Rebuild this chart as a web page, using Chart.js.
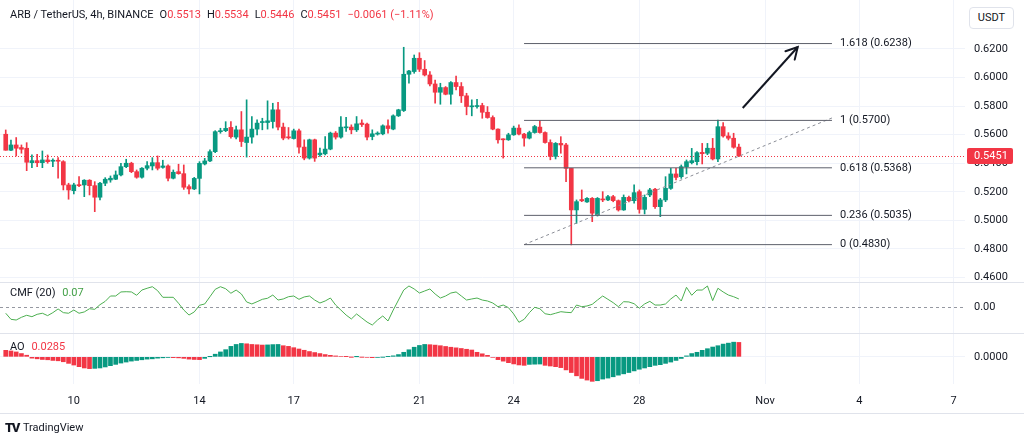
<!DOCTYPE html>
<html><head><meta charset="utf-8">
<script src="https://cdn.jsdelivr.net/npm/chart.js@4.4.1/dist/chart.umd.min.js"></script>
<style>
html,body{margin:0;padding:0;background:#fff;}
body{width:1024px;height:438px;position:relative;overflow:hidden;font-family:Roboto,"Noto Sans",sans-serif;color:#131722;}
.pane{position:absolute;left:0;width:1024px;}
.sep{position:absolute;left:0;width:1024px;height:1px;background:#e0e3eb;}
.lbl{position:absolute;left:10px;font-size:11px;line-height:14px;white-space:nowrap;}
.red{color:#f23645;}
.grn{color:#43a047;}
.g{margin-left:6px;}
#usdt{position:absolute;left:969px;top:7px;width:43px;height:20px;border:1px solid #e0e3eb;border-radius:4px;font-size:11px;line-height:20px;text-align:center;background:#fff;}
#tv{position:absolute;left:5px;top:421px;font-size:11px;line-height:14px;display:flex;align-items:center;}
#tv b{font-weight:900;font-size:13px;letter-spacing:-1.5px;margin-right:4px;}
</style></head><body>
<div class="pane" style="top:0;height:282px"><canvas id="c1" width="1024" height="282"></canvas></div>
<div class="sep" style="top:282px"></div>
<div class="pane" style="top:283px;height:50px"><canvas id="c2" width="1024" height="50"></canvas></div>
<div class="sep" style="top:333px"></div>
<div class="pane" style="top:334px;height:79px"><canvas id="c3" width="1024" height="79"></canvas></div>
<div class="sep" style="top:413px"></div>
<div class="lbl" id="hdr" style="top:8px"></div>
<div class="lbl" id="cmfLbl" style="top:286px"></div>
<div class="lbl" id="aoLbl" style="top:340px"></div>
<div id="usdt">USDT</div>
<div id="tv"><b>TV</b><span>TradingView</span></div>
<script>
// ---------- DATA ----------
const symbolText = 'ARB / TetherUS, 4h, BINANCE';
const candleStart = 7 + 20/24;   // Oct 7, 20:00 (days in October)
const stepDays = 4/24;           // 4h candles
const opens = [.5603,.5491,.5528,.5510,.5505,.5404,.5418,.5404,.5423,.5414,
.5418,.5411,.5248,.5208,.5248,.5248,.5281,.5243,.5162,.5260,
.5283,.5288,.5318,.5376,.5400,.5341,.5302,.5365,.5381,.5404,
.5371,.5381,.5295,.5341,.5327,.5236,.5220,.5294,.5395,.5416,
.5481,.5621,.5628,.5651,.5583,.5634,.5545,.5583,.5639,.5685,
.5685,.5692,.5774,.5653,.5583,.5573,.5627,.5513,.5436,.5564,
.5459,.5466,.5499,.5611,.5583,.5648,.5653,.5634,.5681,.5674,
.5587,.5604,.5606,.5662,.5639,.5732,.5769,.6023,.6042,.6135,
.6058,.6018,.5955,.5897,.5930,.5883,.5965,.5937,.5872,.5795,
.5797,.5804,.5757,.5720,.5639,.5569,.5564,.5599,.5646,.5604,
.5576,.5615,.5653,.5615,.5545,.5448,.5539,.5528,.5364,.5073,
.5146,.5129,.5154,.5038,.5148,.5143,.5166,.5138,.5073,.5161,
.5138,.5201,.5077,.5178,.5218,.5096,.5143,.5224,.5325,.5306,
.5376,.5404,.5411,.5476,.5470,.5505,.5430,.5656,.5591,.5575,
.5513];
const highs = [.5633,.5563,.5580,.5528,.5544,.5458,.5463,.5486,.5458,.5430,
.5439,.5418,.5260,.5260,.5306,.5285,.5285,.5271,.5267,.5299,
.5311,.5346,.5400,.5428,.5407,.5353,.5369,.5411,.5439,.5451,
.5421,.5388,.5353,.5393,.5388,.5248,.5301,.5411,.5434,.5493,
.5628,.5645,.5691,.5691,.5660,.5762,.5844,.5727,.5704,.5715,
.5837,.5820,.5827,.5681,.5650,.5639,.5639,.5564,.5569,.5569,
.5506,.5587,.5618,.5622,.5727,.5722,.5669,.5727,.5704,.5681,
.5634,.5620,.5669,.5704,.5739,.5778,.6212,.6050,.6158,.6174,
.6119,.6042,.5983,.5960,.5937,.5972,.6011,.5965,.5890,.5844,
.5848,.5820,.5797,.5732,.5641,.5571,.5610,.5660,.5669,.5610,
.5625,.5665,.5699,.5620,.5564,.5545,.5586,.5539,.5364,.5143,
.5213,.5160,.5160,.5160,.5201,.5175,.5175,.5143,.5178,.5170,
.5248,.5213,.5178,.5224,.5224,.5154,.5306,.5364,.5364,.5388,
.5423,.5504,.5481,.5539,.5539,.5574,.5703,.5684,.5614,.5610,
.5534];
const lows = [.5491,.5488,.5451,.5470,.5348,.5369,.5376,.5369,.5400,.5376,
.5295,.5213,.5148,.5185,.5236,.5166,.5178,.5061,.5143,.5243,
.5267,.5285,.5311,.5369,.5334,.5295,.5295,.5353,.5353,.5353,
.5365,.5276,.5290,.5323,.5217,.5185,.5215,.5185,.5388,.5411,
.5474,.5610,.5621,.5575,.5570,.5517,.5443,.5541,.5599,.5634,
.5639,.5646,.5634,.5564,.5569,.5569,.5471,.5424,.5429,.5413,
.5448,.5459,.5494,.5569,.5576,.5622,.5606,.5622,.5657,.5564,
.5564,.5597,.5599,.5611,.5634,.5727,.5762,.5960,.6030,.6042,
.6011,.5941,.5820,.5813,.5879,.5813,.5914,.5825,.5739,.5732,
.5785,.5715,.5715,.5634,.5541,.5436,.5560,.5595,.5599,.5520,
.5570,.5610,.5610,.5540,.5424,.5430,.5470,.5271,.4828,.4979,
.5131,.5125,.4991,.5030,.5131,.5138,.5130,.5065,.5070,.5130,
.5120,.5050,.5045,.5166,.5084,.5026,.5131,.5217,.5283,.5294,
.5325,.5395,.5388,.5395,.5460,.5423,.5411,.5582,.5563,.5505,
.5446];
const closes = [.5491,.5528,.5505,.5498,.5407,.5418,.5404,.5423,.5411,.5418,
.5414,.5248,.5213,.5248,.5243,.5281,.5243,.5162,.5260,.5288,
.5295,.5318,.5376,.5400,.5341,.5302,.5365,.5383,.5404,.5365,
.5381,.5295,.5337,.5327,.5232,.5220,.5294,.5399,.5416,.5481,
.5621,.5628,.5644,.5586,.5634,.5552,.5583,.5639,.5681,.5690,
.5697,.5774,.5653,.5576,.5578,.5627,.5513,.5436,.5564,.5436,
.5471,.5499,.5611,.5583,.5653,.5653,.5634,.5676,.5671,.5583,
.5606,.5611,.5662,.5643,.5732,.5774,.6023,.6046,.6135,.6058,
.6018,.5955,.5897,.5930,.5883,.5965,.5937,.5872,.5797,.5802,
.5802,.5757,.5720,.5639,.5564,.5564,.5599,.5646,.5604,.5576,
.5615,.5657,.5615,.5545,.5448,.5539,.5528,.5364,.5073,.5131,
.5137,.5154,.5050,.5154,.5143,.5166,.5138,.5073,.5161,.5138,
.5194,.5077,.5161,.5213,.5096,.5143,.5224,.5325,.5301,.5376,
.5411,.5418,.5474,.5467,.5505,.5430,.5656,.5591,.5575,.5512,
.5451];
const cmf = [-0.050,-0.101,-0.107,-0.084,-0.067,-0.079,-0.059,-0.050,-0.070,-0.045,
-0.014,-0.045,-0.050,-0.023,-0.050,-0.039,-0.012,-0.017,0.022,0.050,
0.095,0.095,0.129,0.131,0.129,0.101,0.145,0.160,0.173,0.140,
0.084,0.084,0.084,0.034,-0.023,-0.065,-0.039,0.017,0.028,0.089,
0.151,0.173,0.156,0.118,0.145,0.112,0.045,0.028,0.047,0.067,
0.076,0.103,0.061,0.070,0.089,0.095,0.067,0.087,0.095,0.061,
0.036,0.053,0.078,0.019,-0.023,-0.065,-0.098,-0.056,-0.090,-0.124,
-0.149,-0.107,-0.073,-0.115,-0.023,0.061,0.145,0.179,0.154,0.120,
0.137,0.154,0.112,0.078,0.095,0.120,0.129,0.095,0.061,0.070,
0.078,0.061,0.053,0.036,0.005,0.019,-0.003,-0.056,-0.126,-0.101,
-0.045,0.000,-0.012,-0.054,-0.062,-0.050,-0.037,-0.042,-0.045,0.019,
0.005,0.011,0.025,0.061,0.095,0.067,0.039,0.005,0.047,0.045,
0.030,-0.008,0.028,0.050,0.019,0.019,0.028,0.070,0.103,0.053,
0.168,0.101,0.145,0.145,0.179,0.056,0.160,0.129,0.103,0.089,
0.070];
const ao = [0.0129,0.0116,0.0097,0.0065,0.0032,-0.0026,-0.0039,-0.0052,-0.0058,-0.0071,
-0.0078,-0.0097,-0.0129,-0.0162,-0.0194,-0.0220,-0.0233,-0.0228,-0.0220,-0.0200,
-0.0174,-0.0149,-0.0123,-0.0103,-0.0084,-0.0071,-0.0058,-0.0045,-0.0039,-0.0026,
-0.0019,-0.0013,-0.0016,-0.0020,-0.0030,-0.0045,-0.0052,-0.0055,-0.0030,0.0002,
0.0052,0.0097,0.0142,0.0207,0.0245,0.0265,0.0258,0.0245,0.0239,0.0233,
0.0236,0.0242,0.0245,0.0220,0.0207,0.0181,0.0155,0.0130,0.0105,0.0085,
0.0065,0.0045,0.0030,0.0018,0.0010,0.0004,-0.0002,0.0001,-0.0004,-0.0010,
-0.0016,-0.0012,-0.0004,0.0004,0.0020,0.0045,0.0090,0.0140,0.0190,0.0225,
0.0245,0.0240,0.0232,0.0220,0.0205,0.0190,0.0178,0.0165,0.0150,0.0135,
0.0090,0.0060,0.0030,-0.0010,-0.0055,-0.0085,-0.0115,-0.0140,-0.0160,-0.0168,
-0.0149,-0.0145,-0.0142,-0.0168,-0.0181,-0.0194,-0.0213,-0.0258,-0.0310,-0.0375,
-0.0426,-0.0459,-0.0484,-0.0472,-0.0439,-0.0420,-0.0394,-0.0362,-0.0336,-0.0310,
-0.0278,-0.0245,-0.0220,-0.0194,-0.0168,-0.0155,-0.0129,-0.0103,-0.0071,-0.0032,
0.0019,0.0065,0.0090,0.0129,0.0161,0.0194,0.0220,0.0252,0.0271,0.0290,
0.0285];
const tickDays = [10,14,17,21,24,28,32,35,38];
const tickLabels = ['10','14','17','21','24','28','Nov','4','7'];
const priceTicks = [0.46,0.48,0.50,0.52,0.54,0.56,0.58,0.60,0.62];
const fibNames = ['1.618','1','0.618','0.236','0'];
const fibLevels = [0.6238,0.5700,0.5368,0.5035,0.4830];
const fibStart = 24.33, fibEnd = 34.13;
const trendPts = [[24.33,0.4830],[34.13,0.5717]];
const arrowPts = [[31.29,0.5787],[33.04,0.6214]];
const cmfLen = 20;

// ---------- VIEW ----------
const xMin = 7.651, xMax = 38.364;
const GREEN = '#089981', RED = '#f23645';
const times = closes.map((_, i) => candleStart + i * stepDays);
const n = closes.length;
const lastClose = closes[n-1], prevClose = closes[n-2];
const chg = lastClose - prevClose;

Chart.defaults.font.family = "Roboto, 'Noto Sans', sans-serif";
Chart.defaults.font.size = 11;
Chart.defaults.color = '#131722';

// header
const f4 = v => v.toFixed(4);
const minus = s => s.replace('-', '\u2212');
document.getElementById('hdr').innerHTML =
  `${symbolText}<span class="g">O</span><span class="red">${f4(opens[n-1])}</span>` +
  `<span class="g">H</span><span class="red">${f4(highs[n-1])}</span>` +
  `<span class="g">L</span><span class="red">${f4(lows[n-1])}</span>` +
  `<span class="g">C</span><span class="red">${f4(closes[n-1])}</span>` +
  `<span class="g red">${minus(chg.toFixed(4))} (${minus((chg/prevClose*100).toFixed(2))}%)</span>`;
document.getElementById('cmfLbl').innerHTML = `CMF (${cmfLen}) <span class="grn" style="margin-left:4px">${cmf[n-1].toFixed(2)}</span>`;
document.getElementById('aoLbl').innerHTML = `AO <span class="red" style="margin-left:4px">${ao[n-1].toFixed(4)}</span>`;

function noPad(s){ s.paddingTop = 0; s.paddingBottom = 0; s.paddingLeft = 0; s.paddingRight = 0; }
function xAxis(show){
  return {
    type:'linear', min:xMin, max:xMax, offset:false,
    grid:{color:'#f0f3fa', drawTicks:false, offset:false},
    border:{display:false},
    afterBuildTicks: s => { s.ticks = tickDays.map(v => ({value:v})); },
    ticks:{display:show, padding:11, autoSkip:false, maxRotation:0,
      callback: v => { const i = tickDays.indexOf(v); return i >= 0 ? tickLabels[i] : ''; }},
    afterFit: s => { s.height = show ? 29 : 0; noPad(s); }
  };
}
function yAxis(min, max, tvals, fmt, grid){
  return {
    position:'right', min, max,
    afterBuildTicks: s => { s.ticks = tvals.map(v => ({value:v})); },
    grid:{display:grid, color:'#f0f3fa', drawTicks:false},
    border:{display:false},
    ticks:{padding:9, callback: fmt},
    afterFit: s => { s.width = 59; noPad(s); }
  };
}
const base = {responsive:false, animation:false, devicePixelRatio:1, events:[],
  layout:{padding:0}, plugins:{legend:{display:false}, tooltip:{enabled:false}}};

const hline = {
  id:'hline',
  beforeDatasetsDraw(chart, args, o){
    if (!o || o.value === undefined) return;
    const {ctx, chartArea:a, scales:{y}} = chart;
    const py = Math.round(y.getPixelForValue(o.value)) + 0.5;
    ctx.save(); ctx.strokeStyle = o.color; ctx.lineWidth = 1; ctx.setLineDash(o.dash);
    ctx.beginPath(); ctx.moveTo(a.left, py); ctx.lineTo(a.right, py); ctx.stroke(); ctx.restore();
  }
};

const priceDeco = {
  id:'priceDeco',
  afterDraw(chart){
    const {ctx, scales:{x, y}} = chart;
    ctx.save();
    ctx.font = "11px Roboto, 'Noto Sans', sans-serif";
    ctx.fillStyle = '#131722'; ctx.textBaseline = 'middle'; ctx.textAlign = 'left';
    fibLevels.forEach((lv, i) => {
      ctx.fillText(`${fibNames[i]} (${lv.toFixed(4)})`, x.getPixelForValue(fibEnd) + 8, y.getPixelForValue(lv));
    });
    // arrow head
    const x1 = x.getPixelForValue(arrowPts[0][0]), y1 = y.getPixelForValue(arrowPts[0][1]);
    const x2 = x.getPixelForValue(arrowPts[1][0]), y2 = y.getPixelForValue(arrowPts[1][1]);
    const ang = Math.atan2(y2 - y1, x2 - x1), L = 13, th = 0.5;
    ctx.strokeStyle = '#131722'; ctx.lineWidth = 2; ctx.lineCap = 'round';
    ctx.beginPath();
    ctx.moveTo(x2 - L*Math.cos(ang - th), y2 - L*Math.sin(ang - th));
    ctx.lineTo(x2, y2);
    ctx.lineTo(x2 - L*Math.cos(ang + th), y2 - L*Math.sin(ang + th));
    ctx.stroke();
    // last price label
    const py = y.getPixelForValue(lastClose);
    ctx.fillStyle = RED;
    ctx.beginPath(); ctx.roundRect(y.left + 2, py - 8, 46, 16, 2); ctx.fill();
    ctx.fillStyle = '#fff';
    ctx.fillText(lastClose.toFixed(4), y.left + 9, py + 0.5);
    ctx.restore();
  }
};

// ---------- PRICE PANE ----------
const candleColor = i => closes[i] >= opens[i] ? GREEN : RED;
const datasets1 = [
  {type:'bar', label:'wicks', order:6, grouped:false, barThickness:1,
   data: times.map((t, i) => ({x:t, y:[lows[i], highs[i]]})),
   backgroundColor: c => candleColor(c.dataIndex)},
  {type:'bar', label:'bodies', order:5, grouped:false, barThickness:4, minBarLength:1,
   data: times.map((t, i) => ({x:t, y:[opens[i], closes[i]]})),
   backgroundColor: c => candleColor(c.dataIndex)},
  {type:'line', label:'trend', order:3, borderColor:'#8a8d96', borderWidth:1, borderDash:[3,3],
   pointRadius:0, data: trendPts.map(p => ({x:p[0], y:p[1]}))},
  {type:'line', label:'arrow', order:1, borderColor:'#131722', borderWidth:2,
   pointRadius:0, data: arrowPts.map(p => ({x:p[0], y:p[1]}))},
  ...fibLevels.map((lv, i) => ({type:'line', label:'fib ' + fibNames[i], order:2,
   borderColor:'#5d606b', borderWidth:1, pointRadius:0,
   data:[{x:fibStart, y:lv}, {x:fibEnd, y:lv}]}))
];
new Chart(document.getElementById('c1'), {
  type:'bar',
  data:{datasets:datasets1},
  options:{...base,
    plugins:{...base.plugins, hline:{value:lastClose, color:RED, dash:[1,2]}},
    scales:{x:xAxis(false), y:yAxis(0.45684, 0.6543, priceTicks, v => v.toFixed(4), true)}},
  plugins:[hline, priceDeco]
});

// ---------- CMF PANE ----------
new Chart(document.getElementById('c2'), {
  type:'line',
  data:{datasets:[{label:'CMF', data: times.map((t, i) => ({x:t, y:cmf[i]})),
    borderColor:'#4caf50', borderWidth:1, pointRadius:0, tension:0}]},
  options:{...base,
    plugins:{...base.plugins, hline:{value:0, color:'#9598a1', dash:[3,3]}},
    scales:{x:xAxis(false), y:yAxis(-0.216, 0.2042, [0], () => '0.00', false)}},
  plugins:[hline]
});

// ---------- AO PANE ----------
new Chart(document.getElementById('c3'), {
  type:'bar',
  data:{datasets:[{label:'AO', grouped:false, barThickness:4,
    data: times.map((t, i) => ({x:t, y:ao[i]})),
    backgroundColor: c => { const i = c.dataIndex; return i > 0 && ao[i] > ao[i-1] ? GREEN : RED; }}]},
  options:{...base,
    scales:{x:xAxis(true), y:yAxis(-0.05368, 0.04516, [0], () => '0.0000', true)}}
});
</script>
</body></html>
